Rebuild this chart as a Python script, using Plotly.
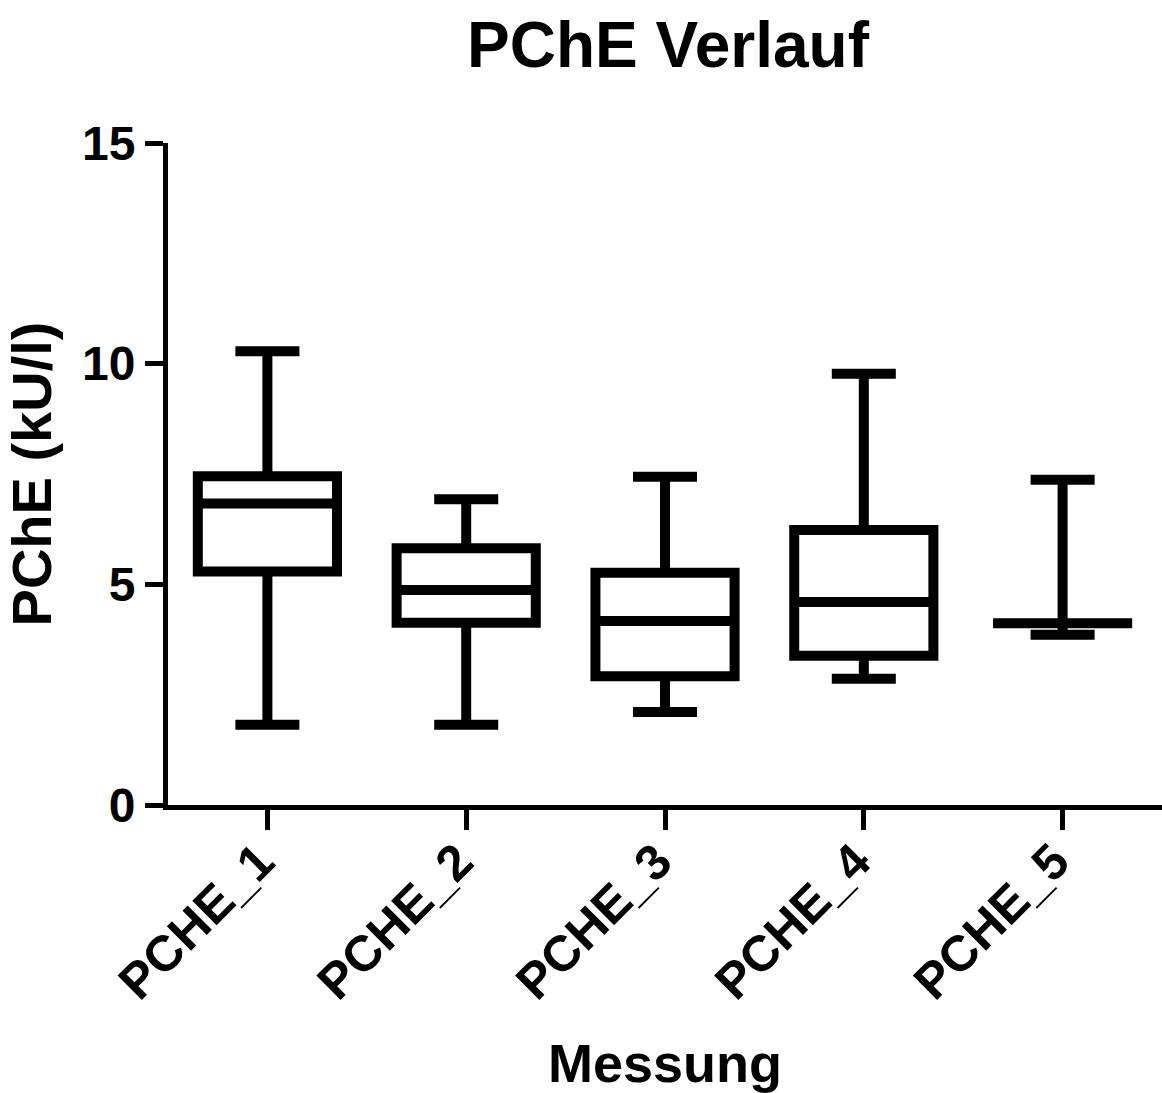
import plotly.graph_objects as go

categories = ["PCHE_1", "PCHE_2", "PCHE_3", "PCHE_4", "PCHE_5"]
lower_whisker = [1.82, 1.82, 2.11, 2.86, 3.86]
q1_values = [5.29, 4.13, 2.92, 3.38, 4.12]
median_values = [6.83, 4.87, 4.17, 4.60, 4.12]
q3_values = [7.45, 5.82, 5.26, 6.23, 4.12]
upper_whisker = [10.28, 6.93, 7.44, 9.77, 7.37]
y_ticks = [0, 5, 10, 15]

FONT = "Liberation Sans, Arial, sans-serif"

fig = go.Figure()
fig.add_trace(go.Box(
    x=categories,
    q1=q1_values,
    median=median_values,
    q3=q3_values,
    lowerfence=lower_whisker,
    upperfence=upper_whisker,
    boxpoints=False,
    width=0.70,
    whiskerwidth=0.46,
    line=dict(color="black", width=10),
    fillcolor="white",
    showlegend=False,
))

fig.update_layout(
    width=1162,
    height=1093,
    autosize=False,
    paper_bgcolor="white",
    plot_bgcolor="white",
    margin=dict(l=168, r=0, t=143, b=288),
    title=dict(
        text="PChE Verlauf",
        font=dict(family=FONT, size=64, color="black", weight="bold"),
        x=668 / 1162, xanchor="center",
        y=1 - 45 / 1093, yanchor="middle", yref="container",
    ),
    xaxis=dict(
        range=[-0.5, 4.5],
        automargin=False,
        showline=True, linecolor="black", linewidth=5,
        ticks="outside", ticklen=20, tickwidth=5, tickcolor="black",
        tickangle=-45,
        ticklabelstandoff=-18,
        ticklabelshift=-8,
        tickfont=dict(family=FONT, size=50, color="black", weight="bold"),
        showgrid=False, zeroline=False,
        title=dict(text="Messung", font=dict(family=FONT, size=54, color="black", weight="bold"), standoff=38),
    ),
    yaxis=dict(
        range=[0, 15],
        automargin=False,
        tickvals=y_ticks,
        showline=True, linecolor="black", linewidth=5,
        ticks="outside", ticklen=18, tickwidth=5, tickcolor="black",
        tickfont=dict(family=FONT, size=48, color="black", weight="bold"),
        showgrid=False, zeroline=False,
        title=dict(text="PChE (kU/l)", font=dict(family=FONT, size=56, color="black", weight="bold"), standoff=20),
    ),
)

fig.write_html(
    "out.html",
    config={"displayModeBar": False},
    post_script="document.body.style.margin='0';",
)
